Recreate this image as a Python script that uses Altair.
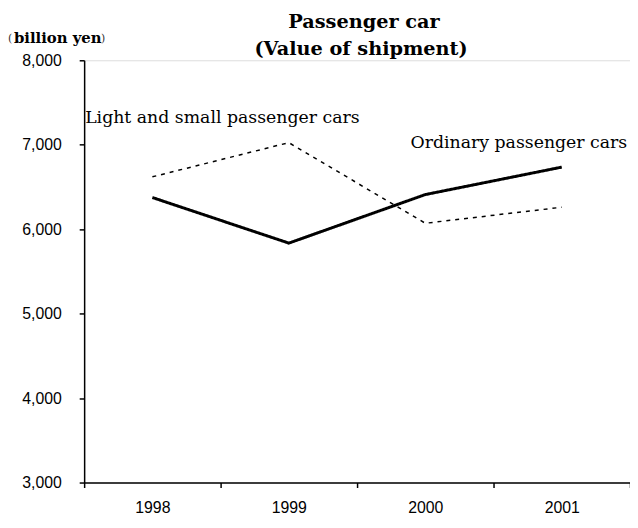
import altair as alt
import pandas as pd

years = ["1998", "1999", "2000", "2001"]
ordinary = [6375, 5835, 6410, 6735]
light_small = [6620, 7025, 6070, 6260]
series_names = ["Ordinary passenger cars", "Light and small passenger cars"]

rows = []
for name, vals in zip(series_names, [ordinary, light_small]):
    for y, v in zip(years, vals):
        rows.append({"year": y, "value": v, "series": name})
df = pd.DataFrame(rows)

W, H = 552, 427

x_enc = alt.X(
    "year:N",
    sort=years,
    scale=alt.Scale(type="band", paddingInner=0, paddingOuter=0),
    bandPosition=0.5,
    axis=alt.Axis(
        title=None, labelAngle=0, tickBand="extent", domainColor="black",
        domainWidth=1.5, tickColor="black", tickWidth=1.5, tickSize=5,
        labelFont="Liberation Sans", labelFontSize=16, labelColor="black",
        labelPadding=12, grid=False,
    ),
)
y_enc = alt.Y(
    "value:Q",
    scale=alt.Scale(domain=[3000, 8000], nice=False, zero=False),
    axis=alt.Axis(
        title=None, values=[3000, 4000, 5000, 6000, 7000, 8000], format=",d",
        domainColor="black", domainWidth=1.5, tickColor="black", tickWidth=1.5,
        tickSize=5, labelFont="Liberation Sans", labelFontSize=16,
        labelColor="black", labelPadding=18, grid=False,
    ),
)

lines = alt.Chart(df).mark_line(color="black").encode(
    x=x_enc,
    y=y_enc,
    detail="series:N",
    strokeWidth=alt.StrokeWidth("series:N", scale=alt.Scale(domain=series_names, range=[3, 1.5]), legend=None),
    strokeDash=alt.StrokeDash("series:N", scale=alt.Scale(domain=series_names, range=[[1, 0], [4, 5]]), legend=None),
)

serif = "DejaVu Serif"


def txt(t, x, y, size, weight="normal", color="black", align="left"):
    return alt.Chart(pd.DataFrame({"t": [t]})).mark_text(
        align=align, baseline="middle", font=serif, fontSize=size,
        fontWeight=weight, color=color
    ).encode(text="t:N", x=alt.value(x), y=alt.value(y))


title1 = txt("Passenger car", 283, -39, 19.5, "bold", align="center")
title2 = txt("(Value of shipment)", 280, -11, 19.5, "bold", align="center")
ann1 = txt("Light and small passenger cars", 1, 58, 17.5)
ann2 = txt("Ordinary passenger cars", 330, 84, 17.5)
unit_l = txt("(", -77, -21, 11, color="#333")
unit_m = txt("billion yen", -71, -22, 15, "bold")
unit_r = txt(")", 17, -21, 11, color="#333")

chart = alt.layer(lines, title1, title2, ann1, ann2, unit_l, unit_m, unit_r).properties(
    width=W,
    height=H,
    autosize=alt.AutoSizeParams(type="none"),
    padding={"left": 77, "top": 50, "right": 0, "bottom": 35},
).configure_view(stroke=None).configure(background="white")

chart.save("out.html", embed_options={"renderer": "svg", "actions": False})
